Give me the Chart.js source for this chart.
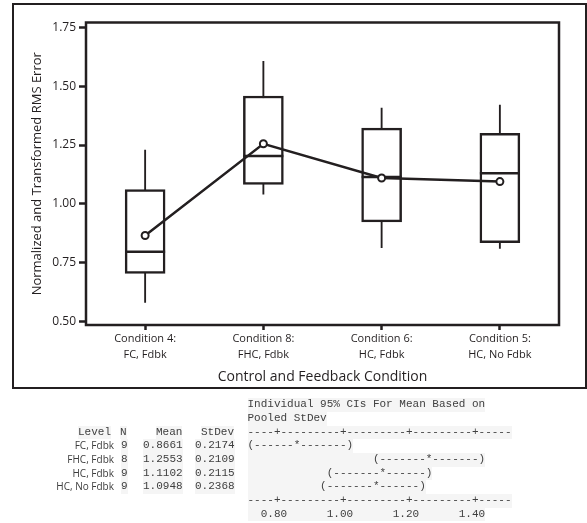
<!DOCTYPE html>
<html><head><meta charset="utf-8">
<script src="https://cdn.jsdelivr.net/npm/chart.js@4"></script>
<style>
html,body{margin:0;padding:0;background:#fff;}
#wrap{position:relative;width:587px;height:523px;overflow:hidden;background:#fff;}
#c{position:absolute;left:0;top:0;}
#frame{position:absolute;left:12px;top:3px;width:575px;height:386px;box-sizing:border-box;border:2.5px solid #231f20;pointer-events:none;}
.mono{position:absolute;font-family:'Liberation Mono','Courier New',monospace;font-size:11px;line-height:13.7px;height:13.7px;color:#404040;white-space:pre;background:#f5f5f5;}
.sans{position:absolute;font-family:'Open Sans',sans-serif;font-size:10px;line-height:13.7px;height:13.7px;color:#3c3c3c;white-space:pre;text-align:right;}
</style></head>
<body>
<div id="wrap">
<canvas id="c" width="587" height="523"></canvas>
<div id="frame"></div>
<div id="table"></div>
</div>
<script>
// ---- data ----
const categories = [['Condition 4:','FC, Fdbk'],['Condition 8:','FHC, Fdbk'],['Condition 6:','HC, Fdbk'],['Condition 5:','HC, No Fdbk']];
const whiskerLow  = [0.582, 1.041, 0.814, 0.811];
const q1          = [0.705, 1.083, 0.924, 0.835];
const medians     = [0.797, 1.203, 1.114, 1.130];
const q3          = [1.061, 1.458, 1.322, 1.300];
const whiskerHigh = [1.228, 1.605, 1.407, 1.419];
const means       = [0.8661, 1.2553, 1.1102, 1.0948];
const yTicks      = [0.50, 0.75, 1.00, 1.25, 1.50, 1.75];

const levels  = ['FC, Fdbk','FHC, Fdbk','HC, Fdbk','HC, No Fdbk'];
const nObs    = [9, 8, 9, 9];
const stDevs  = [0.2174, 0.2109, 0.2115, 0.2368];
const ciRows  = ['(------*-------)',
                 '                   (-------*-------)',
                 '            (-------*------)',
                 '           (-------*------)'];
const ciAxis  = '----+---------+---------+---------+-----';
const ciTickLabels = '  0.80      1.00      1.20      1.40';
const ciTitle = ['Individual 95% CIs For Mean Based on','Pooled StDev'];

// ---- chart ----
const ink = '#231f20';
const fam = "'Open Sans', sans-serif";

const plotFrame = {
  id:'plotFrame',
  afterDraw(chart){
    const {ctx, chartArea:a} = chart;
    ctx.save();
    ctx.strokeStyle = ink; ctx.lineWidth = 2.5;
    ctx.strokeRect(a.left, a.top, a.right-a.left, a.bottom-a.top);
    ctx.restore();
  }
};

new Chart(document.getElementById('c'), {
  type:'bar',
  data:{
    labels: categories,
    datasets:[
      {type:'line', label:'Mean', data: means, borderColor: ink, borderWidth: 2.5,
       pointRadius: 3.5, pointBorderWidth: 2, pointBackgroundColor:'#fff', pointBorderColor: ink,
       tension: 0, order: 0},
      {type:'line', label:'Median', data: medians, showLine:false, pointStyle:'line',
       pointRadius: 20, pointBorderWidth: 2.5, pointBorderColor: ink, order: 1},
      {type:'bar', label:'Box', data: q1.map((v,i)=>[v, q3[i]]), backgroundColor:'#fff',
       borderColor: ink, borderWidth: 2.5, borderSkipped:false, barThickness: 40, grouped:false, order: 2},
      {type:'bar', label:'Whisker', data: whiskerLow.map((v,i)=>[v, whiskerHigh[i]]), backgroundColor: ink,
       borderWidth: 0, barThickness: 1.2, grouped:false, order: 3}
    ]
  },
  options:{
    responsive:false, animation:false, devicePixelRatio:1,
    layout:{padding:{left:0, top:22, right:28, bottom:138}},
    plugins:{legend:{display:false}, tooltip:{enabled:false}},
    scales:{
      x:{
        type:'category', offset:true,
        grid:{display:true, drawOnChartArea:false, drawTicks:true, tickLength:5, tickWidth:2.5, tickColor: ink, offset:false},
        border:{display:false},
        ticks:{font:{family:fam, size:11, lineHeight:1.45}, color: ink, padding:1, maxRotation:0, autoSkip:false},
        title:{display:true, text:'Control and Feedback Condition', font:{family:fam, size:14}, color: ink, padding:{top:0,bottom:0}},
        afterFit(s){ s.height = 60; }
      },
      y:{
        type:'linear', min:0.486, max:1.770,
        afterBuildTicks(s){ s.ticks = yTicks.map(v=>({value:v})); },
        ticks:{callback:v=>Number(v).toFixed(2), font:{family:fam, size:12}, color: ink, padding:3},
        grid:{display:true, drawOnChartArea:false, drawTicks:true, tickLength:7, tickWidth:2.5, tickColor: ink},
        border:{display:false},
        title:{display:true, text:'Normalized and Transformed RMS Error', font:{family:fam, size:13}, color: ink, padding:{top:29,bottom:0}},
        afterFit(s){ s.width = 86; }
      }
    }
  },
  plugins:[plotFrame]
});

// ---- text table ----
const tbl = document.getElementById('table');
const lh = 13.7, y0 = 405;
function put(text, x, line, cls, right){
  const d = document.createElement('div');
  d.className = cls;
  d.textContent = text;
  d.style.top = (y0 + line*lh - lh/2) + 'px';
  if (right) d.style.right = (587 - x) + 'px'; else d.style.left = x + 'px';
  tbl.appendChild(d);
}
const ciX = 247.5;
put(ciTitle[0], ciX, 0, 'mono');
put(ciTitle[1], ciX, 1, 'mono');
put('Level', 78, 2, 'mono');
put('N', 120, 2, 'mono');
put('Mean', 156, 2, 'mono');
put('StDev', 201, 2, 'mono');
put(ciAxis, ciX, 2, 'mono');
levels.forEach((lv,i)=>{
  put(lv, 114, 3+i, 'sans', true);
  put(String(nObs[i]), 121, 3+i, 'mono');
  put(means[i].toFixed(4), 143, 3+i, 'mono');
  put(stDevs[i].toFixed(4), 195, 3+i, 'mono');
  put(ciRows[i], ciX, 3+i, 'mono');
});
put(ciAxis, ciX, 7, 'mono');
put(ciTickLabels, ciX, 8, 'mono');
</script>
</body></html>
